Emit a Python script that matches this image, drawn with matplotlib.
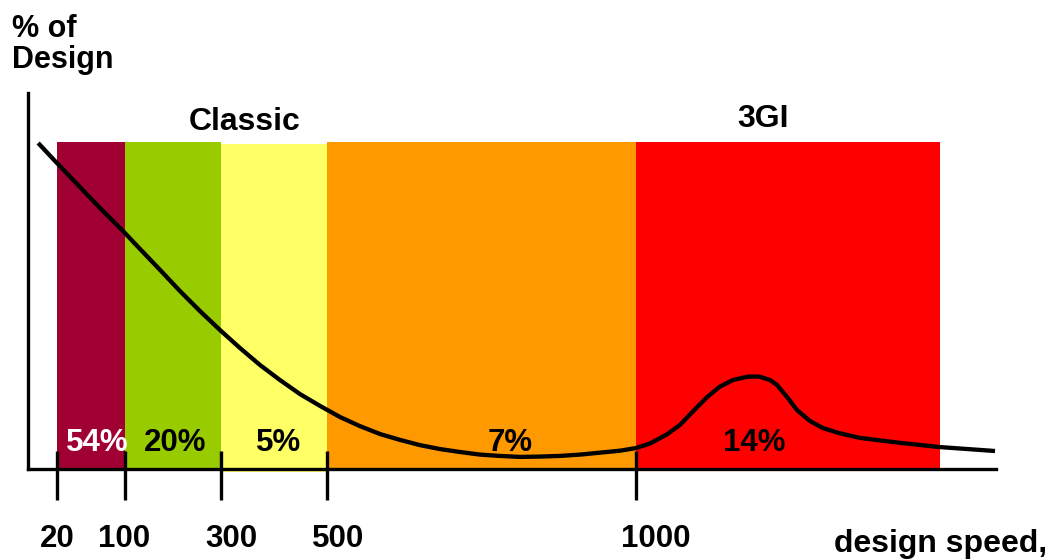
import numpy as np
import matplotlib
matplotlib.use("Agg")
import matplotlib.pyplot as plt
from matplotlib.scale import FuncScale
from matplotlib.transforms import offset_copy

# ---------------- data ----------------
tick_speeds = [20, 100, 300, 500, 1000]
tick_labels = ["20", "100", "300", "500", "1000"]

band_edges = [20, 100, 300, 500, 1000, 2000]
band_colors = ["#A00032", "#99CC00", "#FFFF66", "#FF9900", "#FF0000"]
band_top = [100, 100, 99.4, 100, 100]
band_bottom = [0, 0, -1, 0, 0]

share_labels = ["54%", "20%", "5%", "7%", "14%"]
share_speed = [67, 204, 408, 796, 1388]
share_colors = ["white", "black", "black", "black", "black"]

curve_speed = [7, 18.6, 47.1, 70.6, 97.6, 131.2, 172.9, 214.6, 256.2, 297.9,
               335.8, 373.6, 411.3, 449.1, 486.8, 521.0, 553.4, 585.8, 618.1,
               650.5, 682.8, 715.2, 747.6, 779.9, 812.3, 844.7, 877.0, 909.4,
               941.7, 974.1, 1000, 1046, 1102, 1145, 1188, 1234, 1276, 1319,
               1365, 1385, 1408, 1441, 1464, 1497, 1530, 1572, 1615, 1671, 1737,
               1868, 2000, 2181]
curve_value = [99.7, 94.2, 86.2, 79.8, 72.8, 67.3, 60.9, 54.4, 48.3, 42.5,
               37.0, 31.8, 27.2, 22.9, 19.3, 15.9, 13.1, 10.7, 8.9,
               7.3, 6.1, 5.2, 4.4, 4.0, 3.7, 3.8, 4.0, 4.4,
               5.0, 5.6, 6.4, 7.8, 10.6, 13.5, 17.7, 22.0, 25.2, 27.2,
               28.2, 28.3, 28.2, 27.2, 25.7, 22.0, 18.0, 14.7, 12.5, 10.9, 9.5,
               8.0, 6.7, 5.5]

group_labels = ["Classic", "3GI"]
group_speed = [345, 1418]

# ---------------- nonlinear (schematic) speed axis ----------------
_SP = np.array([0, 20, 100, 300, 500, 1000, 2000], float)
_PX = np.array([28, 57, 125, 221, 327, 636, 940], float)


def _fwd(x):
    x = np.asarray(x, float)
    y = np.interp(x, _SP, _PX)
    hi = _PX[-1] + (x - _SP[-1]) * (_PX[-1] - _PX[-2]) / (_SP[-1] - _SP[-2])
    lo = _PX[0] + (x - _SP[0]) * (_PX[1] - _PX[0]) / (_SP[1] - _SP[0])
    y = np.where(x > _SP[-1], hi, y)
    y = np.where(x < _SP[0], lo, y)
    return y


def _inv(y):
    y = np.asarray(y, float)
    x = np.interp(y, _PX, _SP)
    hi = _SP[-1] + (y - _PX[-1]) * (_SP[-1] - _SP[-2]) / (_PX[-1] - _PX[-2])
    lo = _SP[0] + (y - _PX[0]) * (_SP[1] - _SP[0]) / (_PX[1] - _PX[0])
    x = np.where(y > _PX[-1], hi, x)
    x = np.where(y < _PX[0], lo, x)
    return x


plt.rcParams['font.family'] = ['Liberation Sans', 'DejaVu Sans']
plt.rcParams['font.weight'] = 'bold'

W, H = 1054, 560
fig = plt.figure(figsize=(W / 100, H / 100), dpi=100)
ax = fig.add_axes([28 / W, (H - 469) / H, (996 - 28) / W, (469 - 93) / H])
ax.set_xscale(FuncScale(ax, (_fwd, _inv)))
ax.set_xlim(0, float(_inv(996)))
ax.set_ylim(0, (469 - 93) / 3.27)

# bands
for i in range(len(band_colors)):
    ax.bar(band_edges[i], band_top[i] - band_bottom[i], bottom=band_bottom[i],
           width=band_edges[i + 1] - band_edges[i], align='edge',
           color=band_colors[i], linewidth=0, zorder=1, clip_on=False)

# curve
ax.plot(curve_speed, curve_value, color='black', lw=3.1, zorder=4,
        solid_joinstyle='round', solid_capstyle='butt', clip_on=False)

# spines
for s in ['top', 'right']:
    ax.spines[s].set_visible(False)
for s in ['left', 'bottom']:
    ax.spines[s].set_linewidth(2.4)
    ax.spines[s].set_zorder(5)
ax.set_yticks([])

# ticks: out part (major) and in part (minor) at the same positions
ax.xaxis.remove_overlapping_locs = False
ax.set_xticks(tick_speeds)
ax.set_xticks(tick_speeds, minor=True)
ax.set_xticklabels([])
ax.tick_params(axis='x', which='major', direction='out', length=22.3, width=2.4,
               color='black')
ax.tick_params(axis='x', which='minor', direction='in', length=13, width=2.4,
               color='black')
for t in ax.xaxis.get_major_ticks() + ax.xaxis.get_minor_ticks():
    t.tick1line.set_zorder(6)

# tick labels (slightly offset as in the reference)
label_dx = [0, -1, 10, 11, 20]
for sp, lab, dx in zip(tick_speeds, tick_labels, label_dx):
    tr = offset_copy(ax.get_xaxis_transform(), fig=fig, x=dx, y=0, units='dots')
    ax.text(sp, -(547 - 469) / 376, lab, transform=tr, ha='center', va='baseline',
            fontsize=22.5, fontweight='bold', clip_on=False)

# share labels
for sp, lab, c in zip(share_speed, share_labels, share_colors):
    ax.text(sp, (469 - 451) / 3.27, lab, ha='center', va='baseline', color=c,
            fontsize=22.5, fontweight='bold', zorder=7)

# group labels
ax.text(group_speed[0], (469 - 130) / 3.27, group_labels[0], ha='center',
        va='baseline', fontsize=23, fontweight='bold')
ax.text(group_speed[1], (469 - 127) / 3.27, group_labels[1], ha='center',
        va='baseline', fontsize=23, fontweight='bold')

# axis titles
fig.text(12 / W, 1 - 37 / H, "% of", ha='left', va='baseline', fontsize=22,
         fontweight='bold')
fig.text(12 / W, 1 - 68 / H, "Design", ha='left', va='baseline', fontsize=22,
         fontweight='bold')
fig.text(1047 / W, 1 - 552 / H, "design speed,", ha='right', va='baseline',
         fontsize=23, fontweight='bold')

fig.savefig("out.png", dpi=100)
